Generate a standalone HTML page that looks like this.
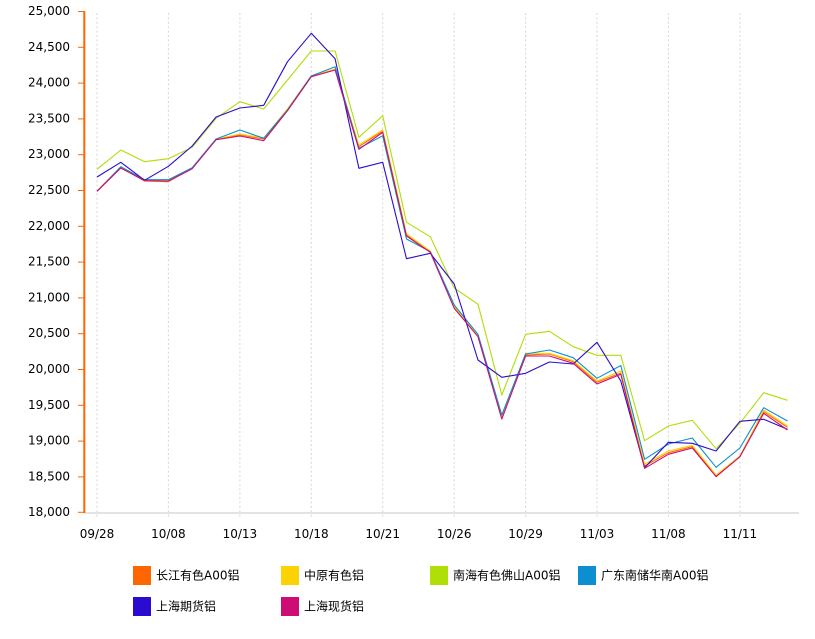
<!DOCTYPE html>
<html><head><meta charset="utf-8"><style>
html,body{margin:0;padding:0;background:#fff;}
svg{display:block;}
text{font-family:"DejaVu Sans","Liberation Sans","Noto Sans CJK SC",sans-serif;font-size:12px;fill:#000;}
.lg{font-family:"DejaVu Sans","Noto Sans CJK SC",sans-serif;font-size:12px;}
</style></head><body>
<svg width="815" height="639" viewBox="0 0 815 639" xmlns="http://www.w3.org/2000/svg">
<rect width="815" height="639" fill="#fff"/>
<g stroke="#d6d6d6" stroke-width="1" stroke-dasharray="2,2.4">
<line x1="97" y1="13" x2="97" y2="518"/>
<line x1="168.4" y1="13" x2="168.4" y2="518"/>
<line x1="239.9" y1="13" x2="239.9" y2="518"/>
<line x1="311.3" y1="13" x2="311.3" y2="518"/>
<line x1="382.7" y1="13" x2="382.7" y2="518"/>
<line x1="454.2" y1="13" x2="454.2" y2="518"/>
<line x1="525.6" y1="13" x2="525.6" y2="518"/>
<line x1="597" y1="13" x2="597" y2="518"/>
<line x1="668.4" y1="13" x2="668.4" y2="518"/>
<line x1="739.9" y1="13" x2="739.9" y2="518"/>
</g>
<line x1="84" y1="513" x2="799" y2="513" stroke="#e3e3e3" stroke-width="2"/>
<g stroke="#FF6600" stroke-width="1">
<line x1="78" y1="11.5" x2="84" y2="11.5"/>
<line x1="78" y1="47.3" x2="84" y2="47.3"/>
<line x1="78" y1="83.1" x2="84" y2="83.1"/>
<line x1="78" y1="118.9" x2="84" y2="118.9"/>
<line x1="78" y1="154.7" x2="84" y2="154.7"/>
<line x1="78" y1="190.5" x2="84" y2="190.5"/>
<line x1="78" y1="226.3" x2="84" y2="226.3"/>
<line x1="78" y1="262.1" x2="84" y2="262.1"/>
<line x1="78" y1="297.9" x2="84" y2="297.9"/>
<line x1="78" y1="333.7" x2="84" y2="333.7"/>
<line x1="78" y1="369.5" x2="84" y2="369.5"/>
<line x1="78" y1="405.3" x2="84" y2="405.3"/>
<line x1="78" y1="441.1" x2="84" y2="441.1"/>
<line x1="78" y1="476.9" x2="84" y2="476.9"/>
<line x1="78" y1="512.3" x2="84" y2="512.3"/>
</g>
<line x1="84.3" y1="11" x2="84.3" y2="513" stroke="#FF6600" stroke-width="2"/>
<g text-anchor="end" dominant-baseline="central">
<text x="70" y="11">25,000</text>
<text x="70" y="46.8">24,500</text>
<text x="70" y="82.6">24,000</text>
<text x="70" y="118.4">23,500</text>
<text x="70" y="154.2">23,000</text>
<text x="70" y="190">22,500</text>
<text x="70" y="225.8">22,000</text>
<text x="70" y="261.6">21,500</text>
<text x="70" y="297.4">21,000</text>
<text x="70" y="333.2">20,500</text>
<text x="70" y="369">20,000</text>
<text x="70" y="404.8">19,500</text>
<text x="70" y="440.6">19,000</text>
<text x="70" y="476.4">18,500</text>
<text x="70" y="512">18,000</text>
</g>
<g text-anchor="middle">
<text x="97" y="538">09/28</text>
<text x="168.4" y="538">10/08</text>
<text x="239.9" y="538">10/13</text>
<text x="311.3" y="538">10/18</text>
<text x="382.7" y="538">10/21</text>
<text x="454.2" y="538">10/26</text>
<text x="525.6" y="538">10/29</text>
<text x="597" y="538">11/03</text>
<text x="668.4" y="538">11/08</text>
<text x="739.9" y="538">11/11</text>
</g>
<g fill="none" stroke-width="1.1" stroke-linejoin="round">
<polyline stroke="#FF6600" points="97,191.3 120.8,167.7 144.6,181 168.4,181.7 192.2,168.3 216.1,139.3 239.9,135 263.7,139 287.5,109.3 311.3,76 335.1,69.3 358.9,146.7 382.7,131 406.5,235 430.3,251.7 454.2,307.3 478,336 501.8,418.3 525.6,355 549.4,354 573.2,361.7 597,382.3 620.8,373 644.6,466 668.4,452.7 692.3,446.7 716.1,476 739.9,456.7 763.7,411.7 787.5,427.3"/>
<polyline stroke="#FCD202" points="97,191 120.8,167 144.6,180.5 168.4,181 192.2,168 216.1,139 239.9,134 263.7,138 287.5,109 311.3,76 335.1,69 358.9,145 382.7,130 406.5,234 430.3,251 454.2,306.5 478,335.5 501.8,418 525.6,353.3 549.4,353.3 573.2,360.7 597,381 620.8,371 644.6,464 668.4,451 692.3,445.3 716.1,475 739.9,456 763.7,410 787.5,426"/>
<polyline stroke="#B0DE09" points="97,169.3 120.8,150 144.6,161.7 168.4,158.7 192.2,147.3 216.1,118.3 239.9,101.7 263.7,109 287.5,80 311.3,51 335.1,51 358.9,137.3 382.7,115.7 406.5,222.3 430.3,236.7 454.2,288 478,304.3 501.8,395 525.6,334.3 549.4,331.3 573.2,346.7 597,355.3 620.8,355.3 644.6,440.7 668.4,426 692.3,420.3 716.1,448.7 739.9,423.3 763.7,392.7 787.5,400.3"/>
<polyline stroke="#0D8ECF" points="97,191.3 120.8,166.7 144.6,179.7 168.4,179.7 192.2,167.7 216.1,139 239.9,130 263.7,138.3 287.5,110 311.3,76 335.1,66.7 358.9,148.3 382.7,135.7 406.5,239 430.3,251.7 454.2,305 478,334.3 501.8,415 525.6,354 549.4,350 573.2,357.7 597,378.3 620.8,365.5 644.6,459.3 668.4,444 692.3,438 716.1,467.3 739.9,448 763.7,407.7 787.5,421"/>
<polyline stroke="#2A0CD0" points="97,177 120.8,162.3 144.6,180.3 168.4,166.3 192.2,146 216.1,117 239.9,108 263.7,105.3 287.5,61.7 311.3,33.3 335.1,58.7 358.9,168.3 382.7,162.3 406.5,258.7 430.3,253.3 454.2,284 478,360 501.8,377.3 525.6,373.3 549.4,362 573.2,364 597,342.3 620.8,381 644.6,467.7 668.4,442.3 692.3,443.3 716.1,451 739.9,421.3 763.7,419.3 787.5,429.3"/>
<polyline stroke="#CD0D74" points="97,191.3 120.8,168 144.6,180.7 168.4,181 192.2,168.7 216.1,139.7 239.9,136 263.7,140.7 287.5,110.7 311.3,76.7 335.1,70 358.9,149.3 382.7,132.3 406.5,236 430.3,252.3 454.2,308.3 478,336.7 501.8,419 525.6,356 549.4,356 573.2,363.3 597,384 620.8,374.3 644.6,468.3 668.4,454.3 692.3,448 716.1,476.7 739.9,456.7 763.7,413.3 787.5,430"/>
</g>
<g>
<rect x="133" y="566" width="18" height="19" fill="#FF6600"/>
<text class="lg" x="156" y="575.5" dominant-baseline="central">长江有色A00铝</text>
<rect x="281" y="566" width="18" height="19" fill="#FCD202"/>
<text class="lg" x="304" y="575.5" dominant-baseline="central">中原有色铝</text>
<rect x="430" y="566" width="18" height="19" fill="#B0DE09"/>
<text class="lg" x="453" y="575.5" dominant-baseline="central">南海有色佛山A00铝</text>
<rect x="578" y="566" width="18" height="19" fill="#0D8ECF"/>
<text class="lg" x="601" y="575.5" dominant-baseline="central">广东南储华南A00铝</text>
<rect x="133" y="597" width="18" height="19" fill="#2A0CD0"/>
<text class="lg" x="156" y="606.5" dominant-baseline="central">上海期货铝</text>
<rect x="281" y="597" width="18" height="19" fill="#CD0D74"/>
<text class="lg" x="304" y="606.5" dominant-baseline="central">上海现货铝</text>
</g>
</svg>
</body></html>
